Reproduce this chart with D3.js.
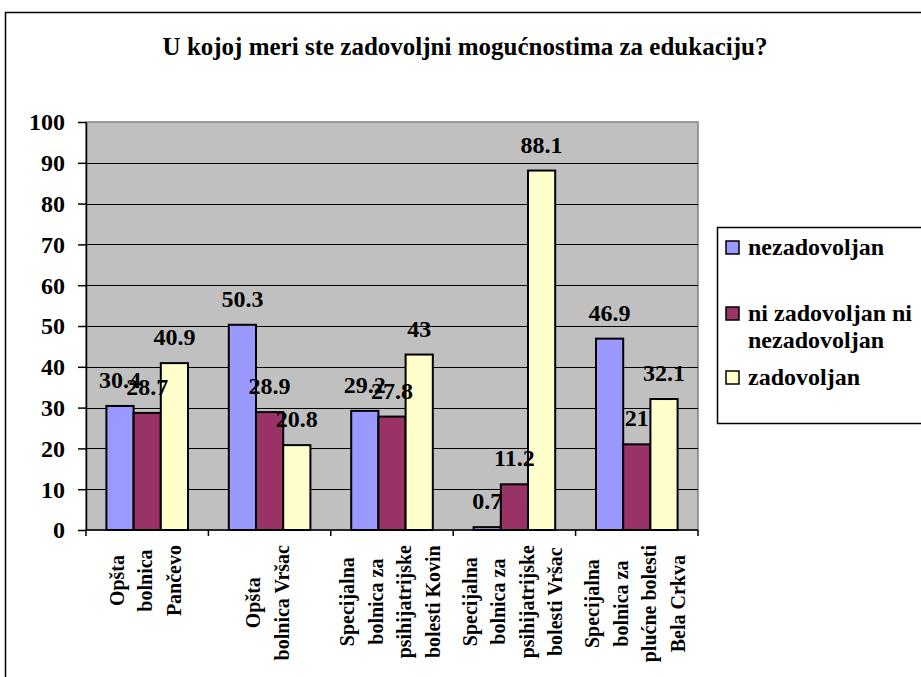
<!DOCTYPE html>
<html>
<head>
<meta charset="utf-8">
<script src="https://cdn.jsdelivr.net/npm/d3@7"></script>
<style>
html,body{margin:0;padding:0;background:#fff;overflow:hidden;}
svg{display:block;}
</style>
</head>
<body>
<svg id="chart" width="921" height="677"></svg>
<script>
const title = "U kojoj meri ste zadovoljni mogućnostima za edukaciju?";
const categories = [
  ["Opšta", "bolnica", "Pančevo"],
  ["Opšta", "bolnica Vršac"],
  ["Specijalna", "bolnica za", "psihijatrijske", "bolesti Kovin"],
  ["Specijalna", "bolnica za", "psihijatrijske", "bolesti Vršac"],
  ["Specijalna", "bolnica za", "plućne bolesti", "Bela Crkva"]
];
const seriesNames = ["nezadovoljan", "ni zadovoljan ni nezadovoljan", "zadovoljan"];
const legendLines = [["nezadovoljan"], ["ni zadovoljan ni", "nezadovoljan"], ["zadovoljan"]];
const nezadovoljan = [30.4, 50.3, 29.2, 0.7, 46.9];
const niZadovoljanNiNezadovoljan = [28.7, 28.9, 27.8, 11.2, 21];
const zadovoljan = [40.9, 20.8, 43, 88.1, 32.1];
const seriesColors = ["#9999ff", "#993366", "#ffffcc"];
const yTicks = [0, 10, 20, 30, 40, 50, 60, 70, 80, 90, 100];

(function () {
const FONT = "'Liberation Serif', 'Times New Roman', serif";
const seriesValues = [nezadovoljan, niZadovoljanNiNezadovoljan, zadovoljan];
const svg = d3.select("#chart");
const styleText = sel => sel.style("font-family", FONT).style("font-weight", "bold").style("fill", "#000");

// outer chart border
svg.append("rect").attr("x", 5.5).attr("y", 12.5).attr("width", 1000).attr("height", 1000)
  .attr("fill", "none").attr("stroke", "#000").attr("stroke-width", 1.5);

// title
svg.append("text").attr("x", 465).attr("y", 55).attr("text-anchor", "middle")
  .style("font-size", "25px").call(styleText).text(title);

const pLeft = 86, pRight = 698, pTop = 122, pBottom = 530;
const catIdx = d3.range(categories.length);
const x0 = d3.scaleBand().domain(catIdx).range([pLeft, pRight]).paddingInner(0).paddingOuter(0);
const x1 = d3.scaleBand().domain(d3.range(seriesNames.length)).range([0, x0.bandwidth()])
  .paddingInner(0).paddingOuter(0.75);
const y = d3.scaleLinear().domain([0, 100]).range([pBottom, pTop]);

// plot area
svg.append("rect").attr("x", pLeft).attr("y", pTop).attr("width", pRight - pLeft).attr("height", pBottom - pTop)
  .attr("fill", "#c0c0c0").attr("stroke", "#808080").attr("stroke-width", 1.5);

// gridlines
svg.append("g").selectAll("line").data(yTicks.filter(t => t > 0 && t < 100)).join("line")
  .attr("x1", pLeft).attr("x2", pRight)
  .attr("y1", d => Math.round(y(d)) + 0.5).attr("y2", d => Math.round(y(d)) + 0.5)
  .attr("stroke", "#000").attr("stroke-width", 1);

// bars
const groups = svg.append("g").selectAll("g").data(catIdx).join("g")
  .attr("transform", i => `translate(${x0(i)},0)`);
groups.selectAll("rect").data(i => seriesValues.map((s, k) => ({k, v: s[i]}))).join("rect")
  .attr("x", d => x1(d.k)).attr("width", x1.bandwidth())
  .attr("y", d => y(d.v)).attr("height", d => y(0) - y(d.v))
  .attr("fill", d => seriesColors[d.k]).attr("stroke", "#000").attr("stroke-width", 2);

// y axis
const yAxis = d3.axisLeft(y).tickValues(yTicks).tickSize(8).tickSizeOuter(0).tickPadding(13);
const ya = svg.append("g").attr("transform", `translate(${pLeft},0)`).call(yAxis);
ya.select(".domain").attr("stroke", "#000").attr("stroke-width", 1.5);
ya.selectAll(".tick line").attr("stroke", "#000").attr("stroke-width", 1.5);
ya.selectAll(".tick text").style("font-size", "24px").call(styleText).attr("dy", "0.33em");

// x axis line and ticks at category boundaries
svg.append("line").attr("x1", pLeft).attr("x2", pRight).attr("y1", pBottom).attr("y2", pBottom)
  .attr("stroke", "#000").attr("stroke-width", 1.5);
const bounds = catIdx.map(i => x0(i)).concat([pRight]);
svg.append("g").selectAll("line").data(bounds).join("line")
  .attr("x1", d => d).attr("x2", d => d).attr("y1", pBottom).attr("y2", pBottom + 6)
  .attr("stroke", "#000").attr("stroke-width", 1.5);

// data labels
groups.selectAll("text.val").data(i => seriesValues.map((s, k) => ({k, v: s[i]}))).join("text")
  .attr("class", "val")
  .attr("x", d => x1(d.k) + x1.bandwidth() / 2).attr("y", d => y(d.v) - 18)
  .attr("text-anchor", "middle").style("font-size", "24px").call(styleText).text(d => d.v);

// category labels (rotated)
const labelTop = 545, lineStep = 28.5;
catIdx.forEach(i => {
  const lines = categories[i];
  const cx = x0(i) + x0.bandwidth() / 2;
  const g = svg.append("g");
  const texts = g.selectAll("text").data(lines).join("text")
    .style("font-size", "20px").call(styleText).attr("text-anchor", "middle").text(d => d);
  let maxLen = 0;
  texts.each(function () { maxLen = Math.max(maxLen, this.getComputedTextLength()); });
  const cy = labelTop + maxLen / 2;
  texts.attr("transform", (d, j) => {
    const bx = cx + (j - (lines.length - 1) / 2) * lineStep + 5;
    return `translate(${bx},${cy}) rotate(-90)`;
  });
});

// legend
svg.append("rect").attr("x", 717.5).attr("y", 227.5).attr("width", 300).attr("height", 196)
  .attr("fill", "#fff").attr("stroke", "#000").attr("stroke-width", 1.5);
const legendBase = [255, 321, 385];
legendLines.forEach((lines, k) => {
  svg.append("rect").attr("x", 726).attr("y", legendBase[k] - 14).attr("width", 13).attr("height", 13)
    .attr("fill", seriesColors[k]).attr("stroke", "#000").attr("stroke-width", 1.5);
  lines.forEach((ln, j) => {
    svg.append("text").attr("x", 748).attr("y", legendBase[k] + j * 27)
      .style("font-size", "24px").call(styleText).text(ln);
  });
});
})();
</script>
</body>
</html>
